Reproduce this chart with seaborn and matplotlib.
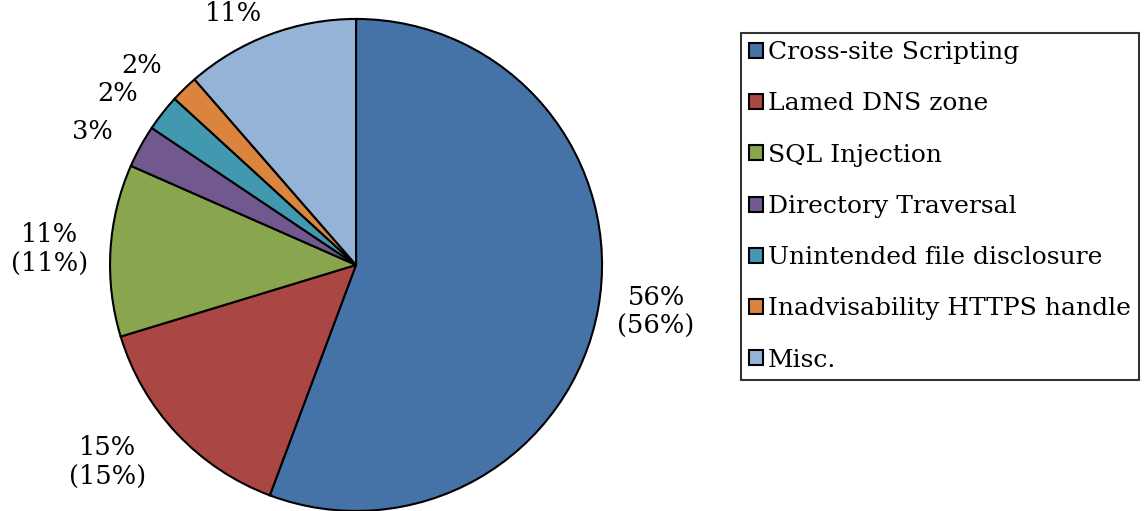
import matplotlib.pyplot as plt
import seaborn as sns

# data
categories = ['Cross-site Scripting', 'Lamed DNS zone', 'SQL Injection',
              'Directory Traversal', 'Unintended file disclosure',
              'Inadvisability HTTPS handle', 'Misc.']
shares = [55.7, 14.6, 11.3, 2.8, 2.4, 1.8, 11.4]
slice_labels = ['56%\n(56%)', '15%\n(15%)', '11%\n(11%)', '3%', '2%', '2%', '11%']

colors = ['#4572A7', '#AA4643', '#89A54E', '#71588F', '#4198AF', '#DB843D', '#95B3D7']
label_dist = [1.08, 1.17, 1.09, 1.13, 1.13, 1.13, 1.09]

sns.set_theme(style='white')
plt.rcParams['font.family'] = ['DejaVu Serif']
plt.rcParams['text.color'] = 'black'

fig = plt.figure(figsize=(11.45, 5.11), dpi=100)
ax = fig.add_axes([0.0961, 0.0, 0.4297, 0.963])

wedges, texts = ax.pie(shares, colors=sns.color_palette(colors), labels=slice_labels,
                       startangle=90, counterclock=False, labeldistance=1.0,
                       wedgeprops=dict(edgecolor='black', linewidth=1.5),
                       textprops=dict(fontsize=18.5, color='black', ma='center'))
# push each label out to its own distance
for t, d in zip(texts, label_dist):
    x, y = t.get_position()
    t.set_position((x * d, y * d))
ax.set_xlim(-1, 1)
ax.set_ylim(-1, 1)
ax.set_aspect('equal')

leg = fig.legend(wedges, categories, loc='upper left', bbox_to_anchor=(0.647, 0.935),
                 fontsize=18, frameon=True, fancybox=False, edgecolor='black',
                 handlelength=0.56, handleheight=0.56, handletextpad=0.2,
                 labelspacing=1.13, borderpad=0.32, borderaxespad=0, labelcolor='black')
leg.get_frame().set_linewidth(1.5)
for h in leg.legend_handles:
    h.set_linewidth(1.5)

fig.savefig('out.png', dpi=100)
